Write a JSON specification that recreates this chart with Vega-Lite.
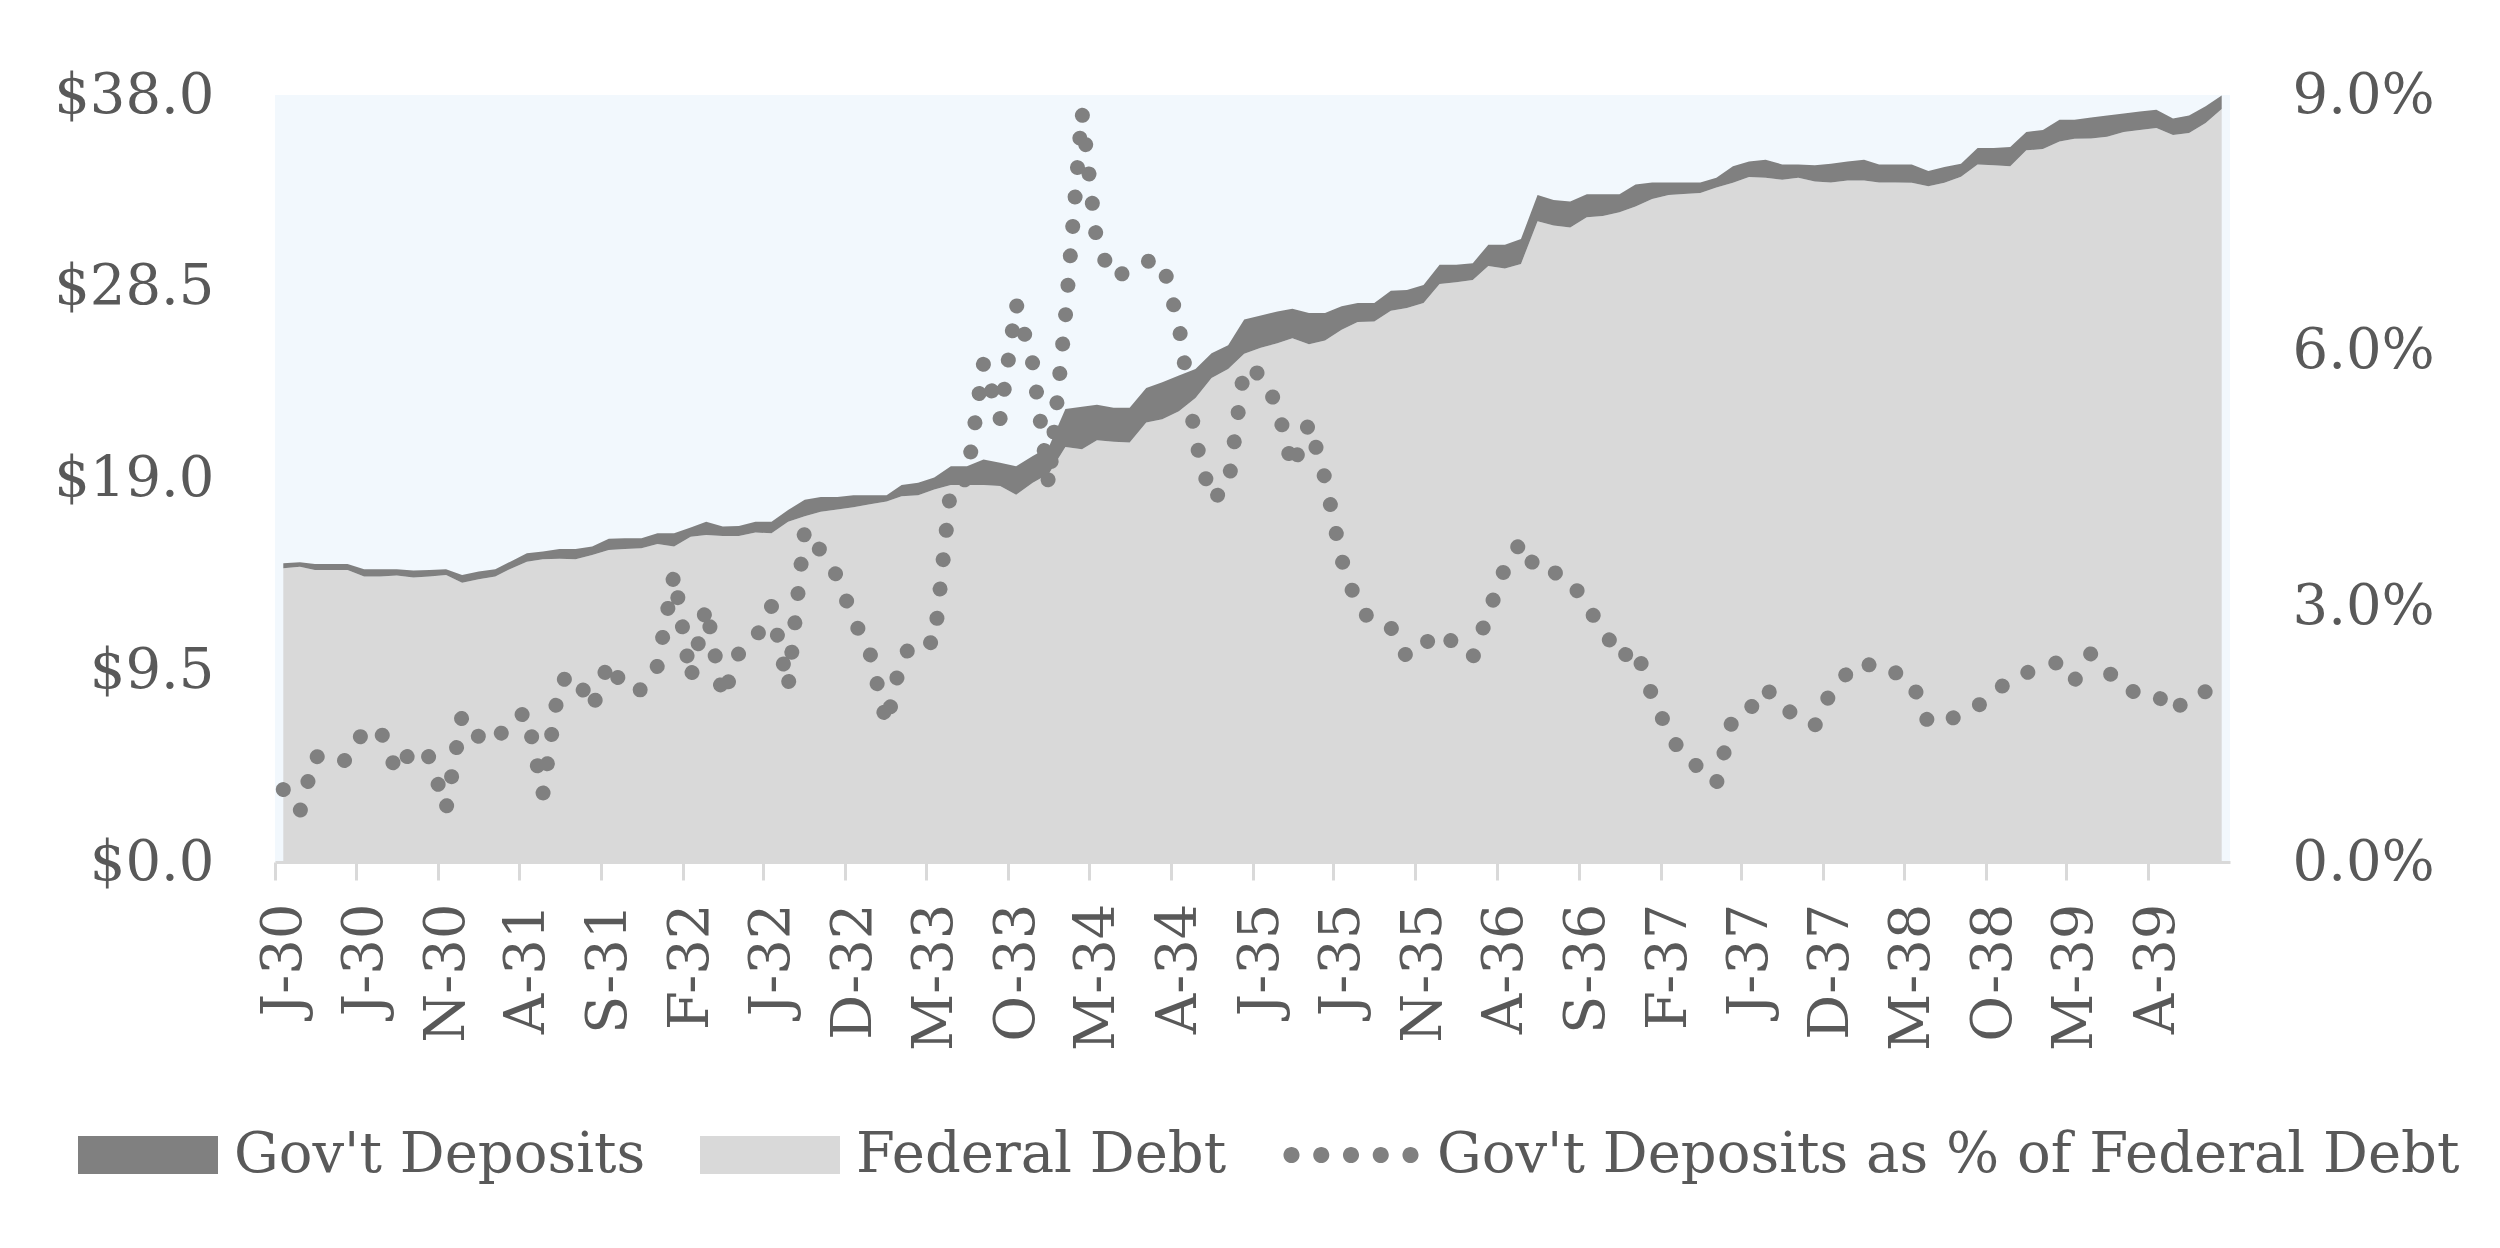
{
  "$schema": "https://vega.github.io/schema/vega-lite/v6.json",
  "width": 1955,
  "height": 767,
  "autosize": {"type": "none"},
  "padding": {"left": 275, "top": 95, "right": 270, "bottom": 386},
  "background": "white",
  "data": {"values": [
    {"date": "1930-01-01T00:00", "total": 14.80, "debt": 14.55, "pct": 0.85},
    {"date": "1930-02-01T00:00", "total": 14.85, "debt": 14.63, "pct": 0.59},
    {"date": "1930-03-01T00:00", "total": 14.77, "debt": 14.47, "pct": 1.25},
    {"date": "1930-04-01T00:00", "total": 14.77, "debt": 14.47, "pct": 1.15},
    {"date": "1930-05-01T00:00", "total": 14.77, "debt": 14.47, "pct": 1.20},
    {"date": "1930-06-01T00:00", "total": 14.50, "debt": 14.14, "pct": 1.55},
    {"date": "1930-07-01T00:00", "total": 14.50, "debt": 14.14, "pct": 1.55},
    {"date": "1930-08-01T00:00", "total": 14.50, "debt": 14.19, "pct": 1.05},
    {"date": "1930-09-01T00:00", "total": 14.44, "debt": 14.09, "pct": 1.35},
    {"date": "1930-10-01T00:00", "total": 14.47, "debt": 14.14, "pct": 1.23},
    {"date": "1930-11-01T00:00", "total": 14.50, "debt": 14.22, "pct": 0.62},
    {"date": "1930-12-01T00:00", "total": 14.22, "debt": 13.84, "pct": 1.72},
    {"date": "1931-01-01T00:00", "total": 14.39, "debt": 14.01, "pct": 1.47},
    {"date": "1931-02-01T00:00", "total": 14.50, "debt": 14.14, "pct": 1.40},
    {"date": "1931-03-01T00:00", "total": 14.88, "debt": 14.52, "pct": 1.68},
    {"date": "1931-04-01T00:00", "total": 15.30, "debt": 14.88, "pct": 1.75},
    {"date": "1931-05-01T00:00", "total": 15.38, "debt": 15.00, "pct": 0.80},
    {"date": "1931-06-01T00:00", "total": 15.51, "debt": 15.02, "pct": 2.12},
    {"date": "1931-07-01T00:00", "total": 15.51, "debt": 15.00, "pct": 2.20},
    {"date": "1931-08-01T00:00", "total": 15.63, "debt": 15.21, "pct": 1.80},
    {"date": "1931-09-01T00:00", "total": 16.01, "debt": 15.46, "pct": 2.35},
    {"date": "1931-10-01T00:00", "total": 16.04, "debt": 15.51, "pct": 2.02},
    {"date": "1931-11-01T00:00", "total": 16.04, "debt": 15.54, "pct": 2.02},
    {"date": "1931-12-01T00:00", "total": 16.29, "debt": 15.76, "pct": 2.30},
    {"date": "1932-01-01T00:00", "total": 16.29, "debt": 15.63, "pct": 3.38},
    {"date": "1932-02-01T00:00", "total": 16.57, "debt": 16.12, "pct": 2.15},
    {"date": "1932-03-01T00:00", "total": 16.86, "debt": 16.20, "pct": 3.00},
    {"date": "1932-04-01T00:00", "total": 16.62, "debt": 16.15, "pct": 1.93},
    {"date": "1932-05-01T00:00", "total": 16.65, "debt": 16.15, "pct": 2.45},
    {"date": "1932-06-01T00:00", "total": 16.86, "debt": 16.32, "pct": 2.62},
    {"date": "1932-07-01T00:00", "total": 16.86, "debt": 16.29, "pct": 3.00},
    {"date": "1932-08-01T00:00", "total": 17.44, "debt": 16.86, "pct": 2.05},
    {"date": "1932-09-01T00:00", "total": 17.95, "debt": 17.13, "pct": 3.90},
    {"date": "1932-10-01T00:00", "total": 18.08, "debt": 17.35, "pct": 3.65},
    {"date": "1932-11-01T00:00", "total": 18.08, "debt": 17.46, "pct": 3.35},
    {"date": "1932-12-01T00:00", "total": 18.17, "debt": 17.57, "pct": 2.85},
    {"date": "1933-01-01T00:00", "total": 18.17, "debt": 17.73, "pct": 2.45},
    {"date": "1933-02-01T00:00", "total": 18.17, "debt": 17.86, "pct": 1.62},
    {"date": "1933-03-01T00:00", "total": 18.68, "debt": 18.12, "pct": 2.40},
    {"date": "1933-04-01T00:00", "total": 18.79, "debt": 18.17, "pct": 2.62},
    {"date": "1933-05-01T00:00", "total": 19.05, "debt": 18.45, "pct": 2.56},
    {"date": "1933-06-01T00:00", "total": 19.61, "debt": 18.68, "pct": 4.40},
    {"date": "1933-07-01T00:00", "total": 19.61, "debt": 18.68, "pct": 4.50},
    {"date": "1933-08-01T00:00", "total": 19.94, "debt": 18.68, "pct": 5.85},
    {"date": "1933-09-01T00:00", "total": 19.78, "debt": 18.63, "pct": 5.20},
    {"date": "1933-10-01T00:00", "total": 19.61, "debt": 18.19, "pct": 6.55},
    {"date": "1933-11-01T00:00", "total": 20.11, "debt": 18.79, "pct": 5.85},
    {"date": "1933-12-01T00:00", "total": 20.56, "debt": 19.23, "pct": 4.42},
    {"date": "1934-01-01T00:00", "total": 22.44, "debt": 20.56, "pct": 6.40},
    {"date": "1934-02-01T00:00", "total": 22.55, "debt": 20.45, "pct": 8.80},
    {"date": "1934-03-01T00:00", "total": 22.66, "debt": 20.89, "pct": 7.25},
    {"date": "1934-04-01T00:00", "total": 22.50, "debt": 20.82, "pct": 6.85},
    {"date": "1934-05-01T00:00", "total": 22.50, "debt": 20.78, "pct": 6.95},
    {"date": "1934-06-01T00:00", "total": 23.48, "debt": 21.77, "pct": 7.05},
    {"date": "1934-07-01T00:00", "total": 23.77, "debt": 21.93, "pct": 7.05},
    {"date": "1934-08-01T00:00", "total": 24.10, "debt": 22.33, "pct": 6.30},
    {"date": "1934-09-01T00:00", "total": 24.43, "debt": 22.99, "pct": 4.95},
    {"date": "1934-10-01T00:00", "total": 25.20, "debt": 23.98, "pct": 4.25},
    {"date": "1934-11-01T00:00", "total": 25.60, "debt": 24.43, "pct": 4.40},
    {"date": "1934-12-01T00:00", "total": 26.88, "debt": 25.18, "pct": 5.80},
    {"date": "1935-01-01T00:00", "total": 27.08, "debt": 25.48, "pct": 5.72},
    {"date": "1935-02-01T00:00", "total": 27.28, "debt": 25.70, "pct": 5.35},
    {"date": "1935-03-01T00:00", "total": 27.41, "debt": 25.95, "pct": 4.62},
    {"date": "1935-04-01T00:00", "total": 27.20, "debt": 25.65, "pct": 5.15},
    {"date": "1935-05-01T00:00", "total": 27.20, "debt": 25.84, "pct": 4.50},
    {"date": "1935-06-01T00:00", "total": 27.54, "debt": 26.37, "pct": 3.55},
    {"date": "1935-07-01T00:00", "total": 27.70, "debt": 26.75, "pct": 3.00},
    {"date": "1935-08-01T00:00", "total": 27.70, "debt": 26.78, "pct": 2.80},
    {"date": "1935-09-01T00:00", "total": 28.30, "debt": 27.31, "pct": 2.75},
    {"date": "1935-10-01T00:00", "total": 28.34, "debt": 27.45, "pct": 2.40},
    {"date": "1935-11-01T00:00", "total": 28.59, "debt": 27.70, "pct": 2.55},
    {"date": "1935-12-01T00:00", "total": 29.59, "debt": 28.64, "pct": 2.70},
    {"date": "1936-01-01T00:00", "total": 29.59, "debt": 28.72, "pct": 2.55},
    {"date": "1936-02-01T00:00", "total": 29.67, "debt": 28.84, "pct": 2.40},
    {"date": "1936-03-01T00:00", "total": 30.58, "debt": 29.53, "pct": 2.92},
    {"date": "1936-04-01T00:00", "total": 30.58, "debt": 29.40, "pct": 3.45},
    {"date": "1936-05-01T00:00", "total": 30.86, "debt": 29.63, "pct": 3.76},
    {"date": "1936-06-01T00:00", "total": 33.04, "debt": 31.75, "pct": 3.40},
    {"date": "1936-07-01T00:00", "total": 32.80, "debt": 31.53, "pct": 3.40},
    {"date": "1936-08-01T00:00", "total": 32.72, "debt": 31.43, "pct": 3.32},
    {"date": "1936-09-01T00:00", "total": 33.08, "debt": 31.94, "pct": 2.99},
    {"date": "1936-10-01T00:00", "total": 33.08, "debt": 32.00, "pct": 2.75},
    {"date": "1936-11-01T00:00", "total": 33.08, "debt": 32.19, "pct": 2.38},
    {"date": "1936-12-01T00:00", "total": 33.57, "debt": 32.47, "pct": 2.52},
    {"date": "1937-01-01T00:00", "total": 33.67, "debt": 32.85, "pct": 1.95},
    {"date": "1937-02-01T00:00", "total": 33.67, "debt": 33.04, "pct": 1.52},
    {"date": "1937-03-01T00:00", "total": 33.67, "debt": 33.10, "pct": 1.23},
    {"date": "1937-04-01T00:00", "total": 33.67, "debt": 33.14, "pct": 1.10},
    {"date": "1937-05-01T00:00", "total": 33.90, "debt": 33.42, "pct": 0.92},
    {"date": "1937-06-01T00:00", "total": 34.47, "debt": 33.65, "pct": 1.70},
    {"date": "1937-07-01T00:00", "total": 34.71, "debt": 33.94, "pct": 1.78},
    {"date": "1937-08-01T00:00", "total": 34.79, "debt": 33.90, "pct": 2.05},
    {"date": "1937-09-01T00:00", "total": 34.56, "debt": 33.80, "pct": 1.80},
    {"date": "1937-10-01T00:00", "total": 34.56, "debt": 33.90, "pct": 1.72},
    {"date": "1937-11-01T00:00", "total": 34.52, "debt": 33.71, "pct": 1.60},
    {"date": "1937-12-01T00:00", "total": 34.60, "debt": 33.67, "pct": 2.00},
    {"date": "1938-01-01T00:00", "total": 34.71, "debt": 33.77, "pct": 2.22},
    {"date": "1938-02-01T00:00", "total": 34.79, "debt": 33.77, "pct": 2.36},
    {"date": "1938-03-01T00:00", "total": 34.56, "debt": 33.67, "pct": 2.22},
    {"date": "1938-04-01T00:00", "total": 34.56, "debt": 33.67, "pct": 2.22},
    {"date": "1938-05-01T00:00", "total": 34.56, "debt": 33.65, "pct": 2.12},
    {"date": "1938-06-01T00:00", "total": 34.24, "debt": 33.48, "pct": 1.63},
    {"date": "1938-07-01T00:00", "total": 34.43, "debt": 33.65, "pct": 1.66},
    {"date": "1938-08-01T00:00", "total": 34.60, "debt": 33.95, "pct": 1.72},
    {"date": "1938-09-01T00:00", "total": 35.38, "debt": 34.56, "pct": 1.83},
    {"date": "1938-10-01T00:00", "total": 35.38, "debt": 34.52, "pct": 1.97},
    {"date": "1938-11-01T00:00", "total": 35.42, "debt": 34.47, "pct": 2.15},
    {"date": "1938-12-01T00:00", "total": 36.17, "debt": 35.26, "pct": 2.22},
    {"date": "1939-01-01T00:00", "total": 36.27, "debt": 35.32, "pct": 2.28},
    {"date": "1939-02-01T00:00", "total": 36.78, "debt": 35.70, "pct": 2.35},
    {"date": "1939-03-01T00:00", "total": 36.78, "debt": 35.83, "pct": 2.13},
    {"date": "1939-04-01T00:00", "total": 36.89, "debt": 35.85, "pct": 2.45},
    {"date": "1939-05-01T00:00", "total": 36.99, "debt": 35.93, "pct": 2.25},
    {"date": "1939-06-01T00:00", "total": 37.08, "debt": 36.17, "pct": 2.03},
    {"date": "1939-07-01T00:00", "total": 37.18, "debt": 36.27, "pct": 1.98},
    {"date": "1939-08-01T00:00", "total": 37.27, "debt": 36.36, "pct": 1.97},
    {"date": "1939-09-01T00:00", "total": 36.84, "debt": 36.02, "pct": 1.75},
    {"date": "1939-10-01T00:00", "total": 36.99, "debt": 36.12, "pct": 1.95},
    {"date": "1939-11-01T00:00", "total": 37.44, "debt": 36.61, "pct": 2.00},
    {"date": "1939-12-01T00:00", "total": 37.97, "debt": 37.31, "pct": 1.99}
  ]},
  "encoding": {
    "x": {
      "field": "date",
      "type": "temporal",
      "scale": {"domain": [
        {"year": 1929, "month": 12, "date": 16, "hours": 12},
        {"year": 1939, "month": 12, "date": 16, "hours": 12}
      ]},
      "axis": {
        "title": null,
        "values": [
          {"year": 1930, "month": 1, "date": 1}, {"year": 1930, "month": 6, "date": 1},
          {"year": 1930, "month": 11, "date": 1}, {"year": 1931, "month": 4, "date": 1},
          {"year": 1931, "month": 9, "date": 1}, {"year": 1932, "month": 2, "date": 1},
          {"year": 1932, "month": 7, "date": 1}, {"year": 1932, "month": 12, "date": 1},
          {"year": 1933, "month": 5, "date": 1}, {"year": 1933, "month": 10, "date": 1},
          {"year": 1934, "month": 3, "date": 1}, {"year": 1934, "month": 8, "date": 1},
          {"year": 1935, "month": 1, "date": 1}, {"year": 1935, "month": 6, "date": 1},
          {"year": 1935, "month": 11, "date": 1}, {"year": 1936, "month": 4, "date": 1},
          {"year": 1936, "month": 9, "date": 1}, {"year": 1937, "month": 2, "date": 1},
          {"year": 1937, "month": 7, "date": 1}, {"year": 1937, "month": 12, "date": 1},
          {"year": 1938, "month": 5, "date": 1}, {"year": 1938, "month": 10, "date": 1},
          {"year": 1939, "month": 3, "date": 1}, {"year": 1939, "month": 8, "date": 1}
        ],
        "labelExpr": "substring(timeFormat(datum.value, '%B'), 0, 1) + '-' + timeFormat(datum.value, '%y')",
        "labelAngle": 270,
        "labelOverlap": false,
        "labelFlush": false,
        "labelPadding": 23,
        "tickOffset": -8.15,
        "labelOffset": 8.15,
        "tickSize": 18,
        "tickWidth": 3,
        "tickColor": "#d9d9d9",
        "domainColor": "#d9d9d9",
        "domainWidth": 3,
        "grid": false
      }
    }
  },
  "layer": [
    {
      "layer": [
        {
          "mark": {"type": "area", "opacity": 1},
          "encoding": {
            "y": {
              "field": "debt",
              "type": "quantitative",
              "scale": {"domain": [0, 38], "nice": false},
              "axis": {"title": null, "values": [0, 9.5, 19, 28.5, 38], "format": "$.1f"}
            },
            "color": {
              "datum": "Federal Debt",
              "scale": {
                "domain": ["Gov't Deposits", "Federal Debt", "Gov't Deposits as % of Federal Debt"],
                "range": ["#808080", "#d9d9d9", "#808080"]
              },
              "legend": {
                "symbolType": {"expr": "indexof(datum.value, '%') >= 0 ? 'M-0.965,0a0.115,0.115 0 1,0 0.23,0a0.115,0.115 0 1,0 -0.23,0ZM-0.54,0a0.115,0.115 0 1,0 0.23,0a0.115,0.115 0 1,0 -0.23,0ZM-0.115,0a0.115,0.115 0 1,0 0.23,0a0.115,0.115 0 1,0 -0.23,0ZM0.31,0a0.115,0.115 0 1,0 0.23,0a0.115,0.115 0 1,0 -0.23,0ZM0.735,0a0.115,0.115 0 1,0 0.23,0a0.115,0.115 0 1,0 -0.23,0Z' : 'M-1,-0.27H1V0.27H-1Z'"}
              }
            }
          }
        },
        {
          "mark": {"type": "area", "opacity": 1},
          "encoding": {
            "y": {
              "field": "total",
              "type": "quantitative",
              "scale": {"domain": [0, 38], "nice": false},
              "axis": {"title": null, "values": [0, 9.5, 19, 28.5, 38], "format": "$.1f"}
            },
            "y2": {"field": "debt"},
            "color": {
              "datum": "Gov't Deposits",
              "legend": {
                "symbolType": {"expr": "indexof(datum.value, '%') >= 0 ? 'M-0.965,0a0.115,0.115 0 1,0 0.23,0a0.115,0.115 0 1,0 -0.23,0ZM-0.54,0a0.115,0.115 0 1,0 0.23,0a0.115,0.115 0 1,0 -0.23,0ZM-0.115,0a0.115,0.115 0 1,0 0.23,0a0.115,0.115 0 1,0 -0.23,0ZM0.31,0a0.115,0.115 0 1,0 0.23,0a0.115,0.115 0 1,0 -0.23,0ZM0.735,0a0.115,0.115 0 1,0 0.23,0a0.115,0.115 0 1,0 -0.23,0Z' : 'M-1,-0.27H1V0.27H-1Z'"}
              }
            }
          }
        }
      ]
    },
    {
      "mark": {
        "type": "line",
        "strokeWidth": 15,
        "strokeCap": "round",
        "strokeJoin": "round",
        "strokeDash": [0.01, 29.5]
      },
      "encoding": {
        "y": {
          "field": "pct",
          "type": "quantitative",
          "scale": {"domain": [0, 9], "nice": false},
          "axis": {"title": null, "values": [0, 3, 6, 9], "labelExpr": "format(datum.value, '.1f') + '%'"}
        },
        "color": {
          "datum": "Gov't Deposits as % of Federal Debt",
          "legend": {
            "symbolType": {"expr": "indexof(datum.value, '%') >= 0 ? 'M-0.965,0a0.115,0.115 0 1,0 0.23,0a0.115,0.115 0 1,0 -0.23,0ZM-0.54,0a0.115,0.115 0 1,0 0.23,0a0.115,0.115 0 1,0 -0.23,0ZM-0.115,0a0.115,0.115 0 1,0 0.23,0a0.115,0.115 0 1,0 -0.23,0ZM0.31,0a0.115,0.115 0 1,0 0.23,0a0.115,0.115 0 1,0 -0.23,0ZM0.735,0a0.115,0.115 0 1,0 0.23,0a0.115,0.115 0 1,0 -0.23,0Z' : 'M-1,-0.27H1V0.27H-1Z'"}
          }
        }
      }
    }
  ],
  "resolve": {"scale": {"y": "independent"}, "axis": {"y": "independent"}},
  "config": {
    "view": {"fill": "#f2f8fd", "stroke": null},
    "font": "DejaVu Serif",
    "axis": {
      "labelFont": "DejaVu Serif",
      "labelFontSize": 56,
      "labelColor": "#595959"
    },
    "axisY": {"domain": false, "ticks": false, "grid": false},
    "axisLeft": {"labelPadding": 61},
    "axisRight": {"labelPadding": 62},
    "legend": {
      "orient": "none",
      "legendX": -197,
      "legendY": 990,
      "direction": "horizontal",
      "title": null,
      "padding": 0,
      "labelFont": "DejaVu Serif",
      "labelFontSize": 56,
      "labelColor": "#595959",
      "labelLimit": 1500,
      "labelOffset": 16,
      "columnPadding": 54,
      "symbolSize": 19600,
      "symbolStrokeWidth": 0
    }
  }
}
